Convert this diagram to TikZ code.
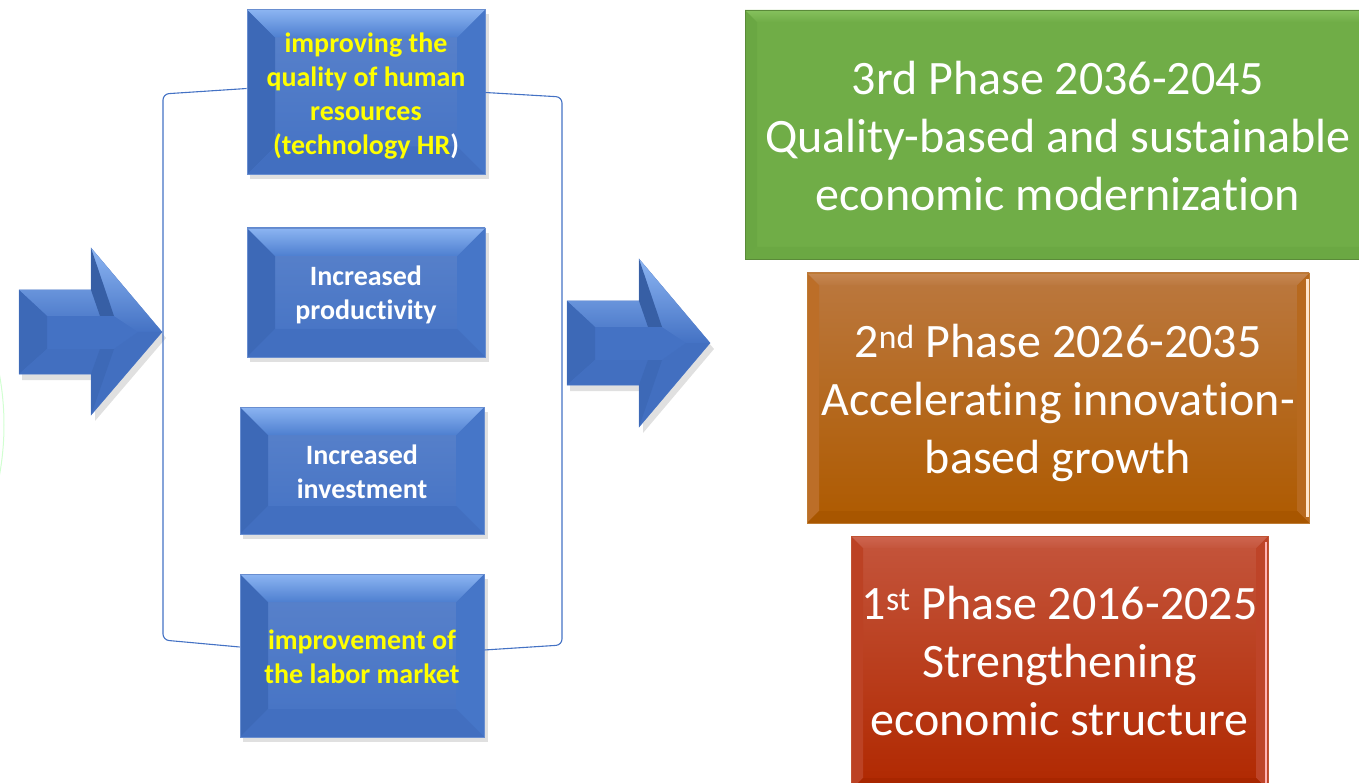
\documentclass[tikz,border=0pt]{standalone}
\usepackage{fontspec}
\setmainfont[Ligatures={NoCommon,NoRequired,NoContextual}]{Carlito}
\newcommand{\nti}{t\kern0pt i}
\definecolor{bBase}{HTML}{4472C4}
\definecolor{bTopA}{HTML}{8CB5F2}
\definecolor{bTopB}{HTML}{4E7FD0}
\definecolor{bLeft}{HTML}{3D69B7}
\definecolor{bRight}{HTML}{4676C8}
\definecolor{bBot}{HTML}{426FC0}
\definecolor{gBase}{HTML}{70AD47}
\definecolor{gTop}{HTML}{86C15E}
\definecolor{gLeft}{HTML}{6AA743}
\definecolor{gRight}{HTML}{74B04B}
\definecolor{gBot}{HTML}{6BA843}
\definecolor{oTopF}{HTML}{BB783F}
\definecolor{oBotF}{HTML}{AE5A00}
\definecolor{oTop}{HTML}{C78852}
\definecolor{oLeft}{HTML}{BC6E28}
\definecolor{oRight}{HTML}{B7691E}
\definecolor{oBot}{HTML}{A85600}
\definecolor{rTopF}{HTML}{C4553C}
\definecolor{rBotF}{HTML}{B02800}
\definecolor{rTop}{HTML}{CE6650}
\definecolor{rLeft}{HTML}{BC4224}
\definecolor{rRight}{HTML}{BE4428}
\definecolor{rBot}{HTML}{A82600}
\definecolor{txtY}{HTML}{FFFF00}
\tikzset{
  bev/.style n args={5}{path picture={
    \coordinate (nw) at (path picture bounding box.north west);
    \coordinate (ne) at (path picture bounding box.north east);
    \coordinate (sw) at (path picture bounding box.south west);
    \coordinate (se) at (path picture bounding box.south east);
    \path[#3] (nw) -- ([xshift=#1,yshift=-#1]nw) -- ([xshift=#1,yshift=#1]sw) -- (sw) -- cycle;
    \path[#4] (ne) -- ([xshift=-#1,yshift=-#1]ne) -- ([xshift=-#1,yshift=#1]se) -- (se) -- cycle;
    \path[#5] (sw) -- ([xshift=#1,yshift=#1]sw) -- ([xshift=-#1,yshift=#1]se) -- (se) -- cycle;
    \path[#2] (nw) -- ([xshift=#1,yshift=-#1]nw) -- ([xshift=-#1,yshift=-#1]ne) -- (ne) -- cycle;
  }},
  bluebox/.style={inner sep=0pt, draw=bBase!80!white, line width=0.6pt,
    top color=bBase!88!white, bottom color=bBase,
    bev={28pt}{top color=bTopA,bottom color=bTopB}{fill=bLeft}{fill=bRight}{fill=bBot}},
  bluetext/.style={inner sep=0pt, align=center, font=\bfseries\fontsize{28}{34}\selectfont},
  phasebox/.style={inner sep=0pt, line width=0.5pt},
  phasetext/.style={inner sep=0pt, align=center, text=white,
    font=\fontsize{48}{58}\selectfont},
  brk/.style={draw=bBase, line width=1.1pt, rounded corners=6pt},
  shadowbox/.style={fill=black, opacity=0.12},
  arrowbody/.style={fill=bBase, draw=bBase!80!white, line width=0.5pt}
}
\begin{document}
\begin{tikzpicture}[x=1pt,y=-1pt]
\useasboundingbox (0,0) rectangle (1359,783);
\clip (0,0) rectangle (1359,783);
% faint arc at left border
\draw[color=green!18!white, line width=1pt] (-274,425) circle (278);

% ---- left arrow ----
\fill[shadowbox] (22,296) -- (95,296) -- (95,254) -- (166,338) -- (95,421) -- (95,380) -- (22,380) -- cycle;
\path[arrowbody] (19,290) -- (91,290) -- (91,248) -- (162,332) -- (91,415) -- (91,374) -- (19,374) -- cycle;
\path[top color=bTopA, bottom color=bBase] (19,290) -- (91,290) -- (91,248) -- (162,332) -- (138,332) -- (114,316) -- (47,316) -- cycle;
\fill[bLeft] (19,290) -- (47,316) -- (47,349) -- (19,374) -- cycle;
\fill[bLeft!90!black] (91,248) -- (114,316) -- (100,316) -- (91,290) -- cycle;
\fill[bBot] (19,374) -- (47,349) -- (114,349) -- (138,332) -- (162,332) -- (91,415) -- (91,374) -- cycle;
\fill[bLeft] (91,415) -- (114,349) -- (100,349) -- (91,374) -- cycle;
\coordinate (la) at (162,332);

% ---- right arrow ----
\fill[shadowbox] (570,307) -- (643,307) -- (643,265) -- (714,349) -- (643,433) -- (643,391) -- (570,391) -- cycle;
\path[arrowbody] (567,301) -- (639,301) -- (639,259) -- (710,343) -- (639,427) -- (639,385) -- (567,385) -- cycle;
\path[top color=bTopA, bottom color=bBase] (567,301) -- (639,301) -- (639,259) -- (710,343) -- (686,343) -- (662,327) -- (595,327) -- cycle;
\fill[bLeft] (567,301) -- (595,327) -- (595,360) -- (567,385) -- cycle;
\fill[bLeft!90!black] (639,259) -- (662,327) -- (648,327) -- (639,301) -- cycle;
\fill[bBot] (567,385) -- (595,360) -- (662,360) -- (686,343) -- (710,343) -- (639,427) -- (639,385) -- cycle;
\fill[bLeft] (639,427) -- (662,360) -- (648,360) -- (639,385) -- cycle;
\coordinate (ra) at (567,343);

% ---- shadows of blue boxes ----
\fill[shadowbox] (250,14) rectangle (489,179);
\fill[shadowbox] (250,233) rectangle (489,362);
\fill[shadowbox] (243,412) rectangle (488,539);
\fill[shadowbox] (243,579) rectangle (488,742);

% ---- blue boxes ----
\node[bluebox, minimum width=238pt, minimum height=165pt] (b1) at (366,92) {};
\node[bluebox, minimum width=238pt, minimum height=129pt] (b2) at (366,292.5) {};
\node[bluebox, minimum width=244pt, minimum height=127pt] (b3) at (362,470.5) {};
\node[bluebox, minimum width=244pt, minimum height=163pt] (b4) at (362,655.5) {};
\node[bluetext] (t1) at ([yshift=-4pt]b1.center)
  {\textcolor{txtY}{improving the}\\\textcolor{txtY}{quality of human}\\\textcolor{txtY}{resources}\\\textcolor{txtY}{(technology HR}\textcolor{white}{)}};
\node[bluetext, text=white] (t2) at ([yshift=-2.5pt]b2.center) {Increased\\produc\nti vity};
\node[bluetext, text=white] (t3) at ([yshift=-1.5pt]b3.center) {Increased\\investment};
\node[bluetext, text=txtY] (t4) at ([yshift=-1.5pt]b4.center) {improvement of\\the labor market};

% ---- brackets ----
\draw[brk] ([yshift=3.5pt]b1.west) -- (163,94) -- (163,640) -- ([yshift=8.5pt]b4.west);
\draw[brk] ([yshift=-0.5pt]b1.east) -- (562,97) -- (562,645) -- ([yshift=5.5pt]b4.east);

% ---- phase boxes ----
\node[phasebox, minimum width=626pt, minimum height=249pt,
  fill=gBase, draw=gBase!80!black,
  bev={12pt}{top color=gTop,bottom color=gBase}{fill=gLeft}{fill=gRight}{fill=gBot}]
  (p3) at (1058,134.5) {};
\node[phasetext] (q3) at ([yshift=-2pt]p3.center)
  {3rd Phase 2036-2045\\Quality-based and sustainable\\economic moderniza\nti on};
\node[phasebox, minimum width=502pt, minimum height=250pt,
  top color=oTopF, bottom color=oBotF, draw=oBotF!80!white,
  bev={12pt}{top color=oTop,bottom color=oTopF}{fill=oLeft}{fill=oRight}{fill=oBot}]
  (p2) at (1058,398) {};
\draw[white!80!orange, line width=2.5pt] ([xshift=-2pt,yshift=-6pt]p2.north east) -- ([xshift=-2pt,yshift=6pt]p2.south east);
\node[phasetext] (q2) at ([yshift=-4.5pt]p2.center)
  {2\textsuperscript{nd} Phase 2026-2035\\Accelera\nti ng innova\nti on-\\based growth};
\node[phasebox, minimum width=417pt, minimum height=254pt,
  top color=rTopF, bottom color=rBotF, draw=rBotF!80!white,
  bev={12pt}{top color=rTop,bottom color=rTopF}{fill=rLeft}{fill=rRight}{fill=rBot}]
  (p1) at (1059.5,663) {};
\draw[white!70!red, line width=2pt] ([xshift=-2pt,yshift=-6pt]p1.north east) -- ([xshift=-2pt,yshift=6pt]p1.south east);
\node[phasetext] (q1) at ([yshift=1.5pt]p1.center)
  {1\textsuperscript{st} Phase 2016-2025\\Strengthening\\economic structure};
\end{tikzpicture}
\end{document}
